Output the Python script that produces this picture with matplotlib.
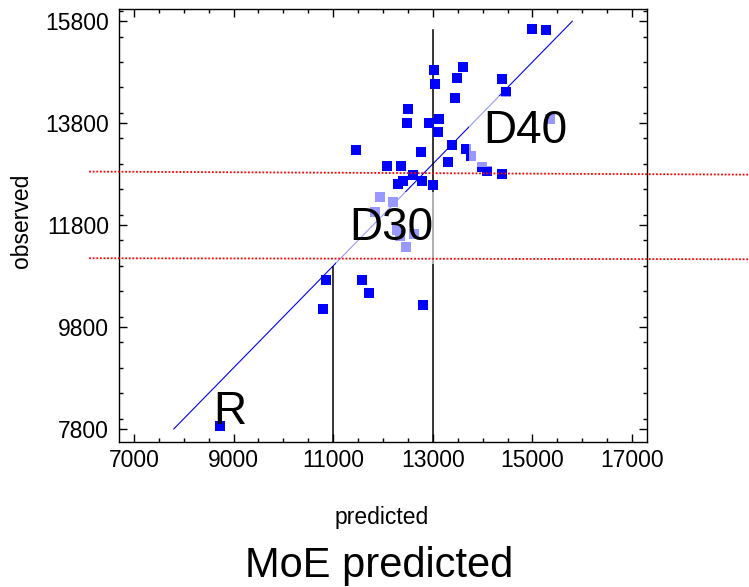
import matplotlib
matplotlib.use("Agg")
import matplotlib.pyplot as plt
from matplotlib.ticker import MultipleLocator

plt.rcParams['font.family'] = ['Liberation Sans', 'DejaVu Sans']

# ---- data ----
predicted = [14990, 15270, 13020, 13610, 13040, 13490, 14380, 14470, 13440, 12510,
             12480, 12930, 13130, 13110, 15350, 11450, 12760, 13390, 13670, 13770,
             13300, 12090, 12370, 13980, 14080, 14380, 12600, 12410, 12300, 12780,
             13000, 11930, 12210, 11840, 12280, 12340, 12620, 12470, 10860, 10800,
             11580, 11720, 12800, 8730]
observed = [15650, 15620, 14850, 14900, 14570, 14680, 14660, 14410, 14300, 14080,
            13810, 13810, 13890, 13620, 13890, 13270, 13230, 13370, 13300, 13160,
            13040, 12960, 12960, 12940, 12860, 12810, 12780, 12660, 12610, 12670,
            12590, 12360, 12250, 12060, 11710, 11580, 11630, 11370, 10720, 10150,
            10720, 10470, 10230, 7860]

fit_x = [7800, 15800]
fit_y = [7800, 15800]

class_bounds_x = [11000, 13000]
class_bounds_top = [10980, 15630]

red_line_x = [6100, 19350]
red_upper_y = [12850, 12790]
red_lower_y = [11150, 11130]

labels = ["R", "D30", "D40"]
label_x = [8600, 11330, 14010]
label_y = [7895, 11510, 13405]

xticks = [7000, 9000, 11000, 13000, 15000, 17000]
yticks = [7800, 9800, 11800, 13800, 15800]

# ---- figure ----
fig = plt.figure(figsize=(7.49, 5.87), dpi=100)
ax = fig.add_axes([119/749, 1-441.7/587, 528/749, 433.2/587])

ax.set_xlim(6700, 17300)
ax.set_ylim(7550, 16050)

ax.scatter(predicted, observed, marker='s', s=50, color='#0000ff', linewidths=0, zorder=3)
ax.plot(fit_x, fit_y, color='#0000ff', lw=0.8, zorder=2)

for bx, top in zip(class_bounds_x, class_bounds_top):
    ax.plot([bx, bx], [7550, top], color='black', lw=1.1, zorder=2)

ax.plot(red_line_x, red_upper_y, color='red', lw=1.3, linestyle=(0, (1, 1)), clip_on=False, zorder=6)
ax.plot(red_line_x, red_lower_y, color='red', lw=1.3, linestyle=(0, (1, 1)), clip_on=False, zorder=6)

for lab, lx, ly in zip(labels, label_x, label_y):
    kw = {}
    if lab != "R":
        kw['bbox'] = dict(boxstyle='square,pad=0.3', fc='white', ec='none', alpha=0.6)
    ax.text(lx, ly, lab, fontsize=33, ha='left', va='baseline', zorder=5, **kw)

ax.set_xticks(xticks)
ax.set_yticks(yticks)
ax.xaxis.set_minor_locator(MultipleLocator(500))
ax.yaxis.set_minor_locator(MultipleLocator(500))
ax.tick_params(which='both', direction='in', top=True, right=True, width=1.0, labelsize=16.5)
ax.tick_params(which='major', length=5.8)
ax.tick_params(which='minor', length=2.9)
ax.tick_params(axis='y', pad=7.2)
ax.tick_params(axis='x', pad=5.0)
for sp in ax.spines.values():
    sp.set_linewidth(1.0)

ax.set_ylabel("observed", fontsize=16.5)
ax.yaxis.set_label_coords(-0.162, 0.51)

fig.text(382/749, 1-524/587, "predicted", fontsize=16.5, ha='center', va='baseline')
fig.text(379/749, 1-577/587, "MoE predicted", fontsize=30, ha='center', va='baseline')

fig.savefig("out.png", dpi=100)
